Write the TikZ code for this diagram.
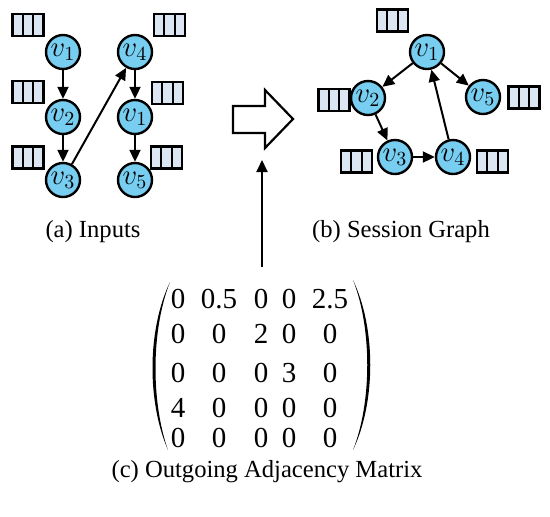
\documentclass[tikz,border=0pt]{standalone}
\usepackage{fontspec}
\setmainfont{Liberation Serif}
\usetikzlibrary{arrows.meta}
\definecolor{nodeblue}{RGB}{120,206,240}
\definecolor{cellblue}{RGB}{220,230,242}

\tikzset{
  item/.style={circle,draw,line width=1.2pt,fill=nodeblue,minimum size=17pt,inner sep=0pt,font=\fontsize{14}{14}\selectfont},
  mem/.style={draw,line width=1.2pt,fill=cellblue,minimum width=15.5pt,minimum height=11pt,inner sep=0pt,
    path picture={
      \draw[line width=1.1pt] ([xshift=-2.58pt]path picture bounding box.north) -- ([xshift=-2.58pt]path picture bounding box.south);
      \draw[line width=1.1pt] ([xshift=2.58pt]path picture bounding box.north) -- ([xshift=2.58pt]path picture bounding box.south);
    }},
  edge/.style={line width=1pt,-{Triangle[length=6pt,width=5.5pt]}},
  caption/.style={font=\fontsize{12.3}{14}\selectfont},
  entry/.style={font=\fontsize{14.5}{16}\selectfont,inner sep=0pt},
}

\begin{document}
\begin{tikzpicture}[x={(0.5pt,0)},y={(0,-0.5pt)}]
    \useasboundingbox (0,0) rectangle (550,516);

    % (a) inputs
    \node[item] (a1) at (63,52) {$v_1$};
    \node[item] (a2) at (63,117) {$v_2$};
    \node[item] (a3) at (63,180) {$v_3$};
    \node[item] (a4) at (135,52) {$v_4$};
    \node[item] (a5) at (135,117) {$v_1$};
    \node[item] (a6) at (135,180) {$v_5$};
    \node[mem] (ma1) at (28,25) {};
    \node[mem] (ma2) at (28,92) {};
    \node[mem] (ma3) at (28,157.5) {};
    \node[mem] (ma4) at (169.5,25) {};
    \node[mem] (ma5) at (167.5,93) {};
    \node[mem] (ma6) at (166.5,157.5) {};
    \draw[edge] (a1) -- (a2);
    \draw[edge] (a2) -- (a3);
    \draw[edge] (a3) -- (a4);
    \draw[edge] (a4) -- (a5);
    \draw[edge] (a5) -- (a6);
    \node[caption] (capa) at (93,232) {(a) Inputs};

    % (b) session graph
    \node[item] (b1) at (427,52) {$v_1$};
    \node[item] (b2) at (368,98) {$v_2$};
    \node[item] (b5) at (483,97) {$v_5$};
    \node[item] (b3) at (395,157) {$v_3$};
    \node[item] (b4) at (453,157) {$v_4$};
    \node[mem] (mb1) at (392.5,20.5) {};
    \node[mem] (mb2) at (334,100) {};
    \node[mem] (mb5) at (524,97.5) {};
    \node[mem] (mb3) at (356.5,161.5) {};
    \node[mem] (mb4) at (492.5,161.5) {};
    \draw[edge] (b1) -- (b2);
    \draw[edge] (b1) -- (b5);
    \draw[edge] (b2) -- (b3);
    \draw[edge] (b3) -- (b4);
    \draw[edge] (b4) -- (b1);
    \node[caption] (capb) at (401,232) {(b) Session Graph};

    % hollow arrow
    \draw[line width=1.1pt,fill=white] (233,106) -- (265,106) -- (265,90) -- (293,119)
        -- (265,148) -- (265,133) -- (233,133) -- cycle;
    \coordinate (mtop) at (262,267);
    \coordinate (hbase) at (262,160);
    \draw[edge] (mtop) -- (hbase);

    % (c) matrix
    \foreach \r/\y/\row in {1/299/{0,0.5,0,0,2.5},2/334/{0,0,2,0,0},3/373/{0,0,0,3,0},4/408/{4,0,0,0,0},5/438/{0,0,0,0,0}}{
        \foreach \v [count=\c] in \row {
            \pgfmathsetmacro{\xc}{{178,219,261,289,330}[\c-1]}
            \node[entry] (m-\r-\c) at (\xc,\y) {\v};
        }
    }
    \fill (170,282) .. controls (147,330) and (147,402) .. (168,450)
        .. controls (151,402) and (151,330) .. (170,282);
    \fill (353,280) .. controls (376,328) and (376,402) .. (353,450)
        .. controls (372,402) and (372,328) .. (353,280);
    \node[caption] (capc) at (267,472) {(c) Outgoing Adjacency Matrix};
\end{tikzpicture}
\end{document}
